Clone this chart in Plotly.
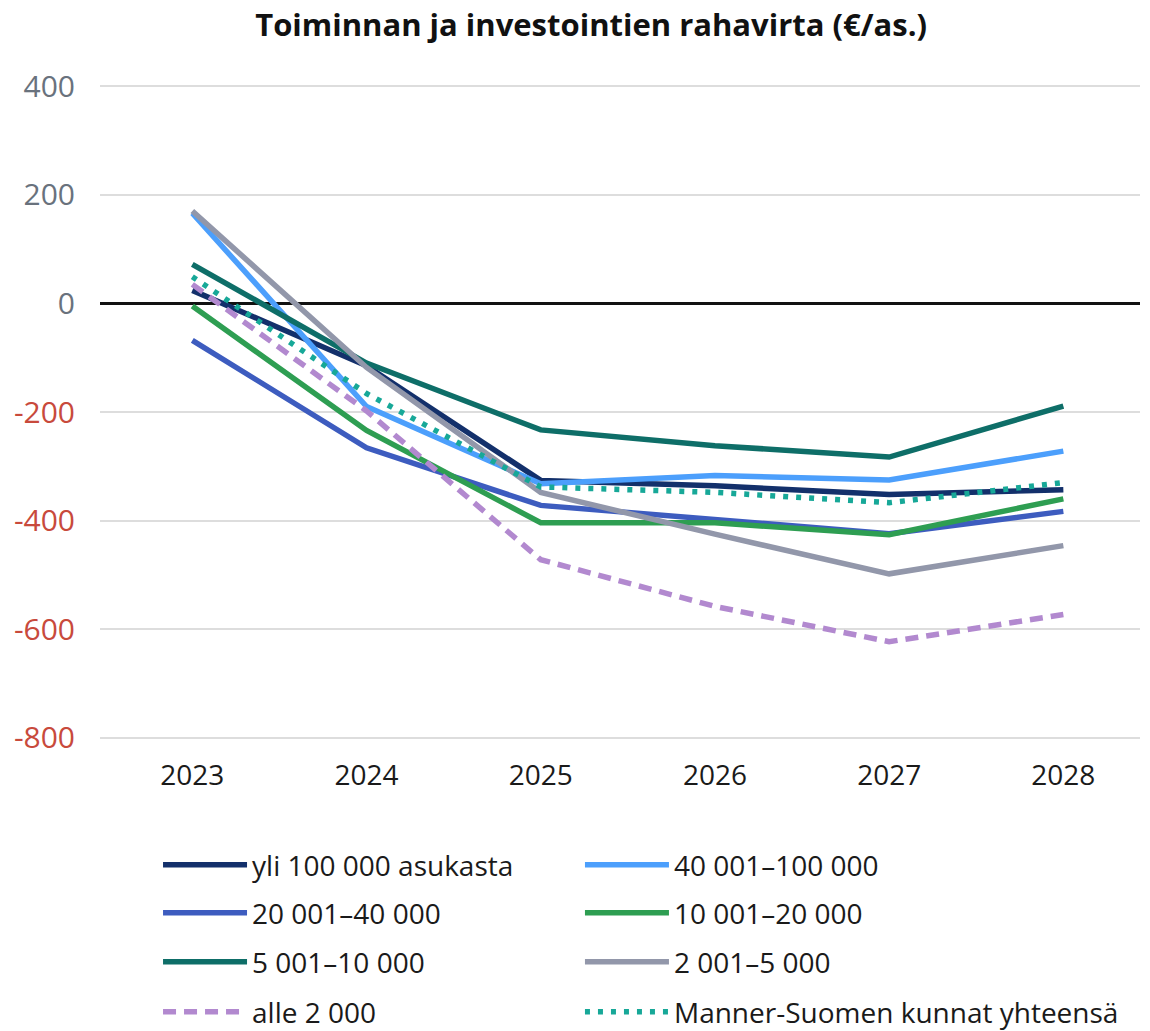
import plotly.graph_objects as go

years = ["2023", "2024", "2025", "2026", "2027", "2028"]

series_names = [
    "yli 100 000 asukasta",
    "40 001–100 000",
    "20 001–40 000",
    "10 001–20 000",
    "5 001–10 000",
    "2 001–5 000",
    "alle 2 000",
    "Manner-Suomen kunnat yhteensä",
]

yli_100000 = [24, -115, -326, -336, -352, -343]
v40001_100000 = [166, -190, -332, -317, -325, -272]
v20001_40000 = [-68, -266, -372, -398, -424, -383]
v10001_20000 = [-5, -234, -404, -404, -426, -360]
v5001_10000 = [72, -110, -233, -262, -283, -189]
v2001_5000 = [170, -118, -348, -425, -498, -446]
alle_2000 = [35, -198, -472, -558, -623, -573]
manner_suomi = [49, -166, -338, -348, -367, -330]

y_ticks = [400, 200, 0, -200, -400, -600, -800]

values = [yli_100000, v40001_100000, v20001_40000, v10001_20000,
          v5001_10000, v2001_5000, alle_2000, manner_suomi]
colors = ["#13306b", "#4c9ffc", "#3d5cbf", "#2e9e52",
          "#0e6e68", "#9297aa", "#b289cf", "#17a898"]
dashes = ["solid", "solid", "solid", "solid", "solid", "solid",
          "13px,8px", "5px,8px"]

FONT = "Open Sans"
fig = go.Figure()
xs = list(range(len(years)))

# legend placement: 2 columns x 4 rows, filled row-wise
col_x = [0.0558, 0.4615]
row_y = [-0.1905, -0.2637, -0.3384, -0.4146]

for i, (name, vals, col, dash) in enumerate(zip(series_names, values, colors, dashes)):
    leg = "legend" if i == 0 else f"legend{i+1}"
    fig.add_trace(go.Scatter(
        x=xs, y=vals, name=name, mode="lines",
        line=dict(color=col, width=5.5, dash=dash),
        legend=leg, hoverinfo="skip",
    ))
    r, c = divmod(i, 2)
    fig.update_layout({leg: dict(
        x=col_x[c], y=row_y[r], xanchor="left", yanchor="middle",
        font=dict(family=FONT, size=28, color="#1a1a1a"),
        bgcolor="rgba(0,0,0,0)", itemwidth=84, borderwidth=0,
    )})

def tick_label(v):
    color = "#c84a3c" if v < 0 else "#69727d"
    return f'<span style="color:{color}">{v}</span>'

fig.update_layout(
    width=1150, height=1031,
    paper_bgcolor="white", plot_bgcolor="white",
    margin=dict(l=100, r=10, t=84, b=291, autoexpand=False),
    title=dict(text="<b>Toiminnan ja investointien rahavirta (€/as.)</b>",
               x=0.514, xanchor="center", y=0.976, yanchor="middle",
               font=dict(family=FONT, size=31, color="#111111")),
    xaxis=dict(
        range=[-0.53, 5.44], tickvals=xs, ticktext=years,
        showgrid=False, zeroline=False, showline=False, ticks="",
        tickfont=dict(family=FONT, size=28, color="#1a1a1a"),
        ticklabelstandoff=16,
    ),
    yaxis=dict(
        range=[-804, 404], tickvals=y_ticks,
        ticktext=[tick_label(v) for v in y_ticks],
        showgrid=True, gridcolor="#dddddd", gridwidth=2,
        zeroline=True, zerolinecolor="#111111", zerolinewidth=3,
        showline=False, ticks="",
        tickfont=dict(family=FONT, size=30),
        ticklabelstandoff=24,
    ),
    showlegend=True,
)

fig.write_html("out.html", config={"displayModeBar": False},
               post_script="document.body.style.margin='0';")
